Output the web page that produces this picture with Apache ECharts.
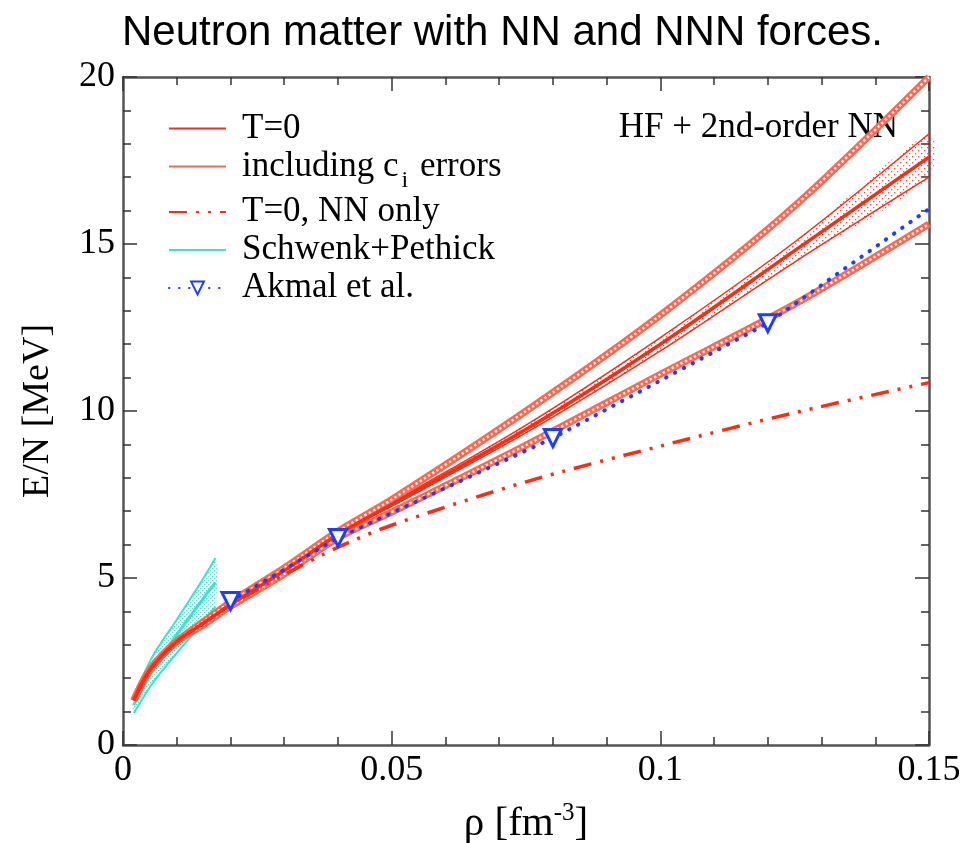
<!DOCTYPE html>
<html>
<head>
<meta charset="utf-8">
<script src="https://cdn.jsdelivr.net/npm/echarts@6/dist/echarts.min.js"></script>
<style>
html,body{margin:0;padding:0;background:#fff;}
#chart{width:977px;height:843px;}
</style>
</head>
<body>
<div id="chart"></div>
<script>
// ---- data ----
const rhoT0   = [0.002, 0.005, 0.01, 0.015, 0.02, 0.03, 0.04, 0.05, 0.075, 0.1, 0.125, 0.15];
const eT0     = [1.33, 2.25, 3.1, 3.65, 4.2, 5.22, 6.3, 7.2, 9.45, 12.0, 14.8, 17.6];
const eBandUp = [1.33, 2.25, 3.1, 3.65, 4.2, 5.22, 6.3, 7.25, 9.58, 12.2, 15.06, 18.3];
const eBandLo = [1.33, 2.25, 3.1, 3.65, 4.2, 5.22, 6.3, 7.15, 9.35, 11.8, 14.46, 17.0];
const eCiUp   = [1.33, 2.25, 3.1, 3.7, 4.28, 5.3, 6.4, 7.35, 10.0, 12.87, 16.14, 20.0];
const eCiLo   = [1.33, 2.25, 3.1, 3.6, 4.15, 5.12, 6.2, 6.97, 8.98, 11.1, 13.2, 15.6];
const eNN     = [1.33, 2.25, 3.1, 3.65, 4.2, 5.1, 5.92, 6.58, 7.88, 8.95, 9.95, 10.85];

const rhoSP = [0.002, 0.0055, 0.01, 0.015, 0.0172];
const eSPup = [1.45, 2.65, 3.75, 5.0, 5.6];
const eSP   = [1.2, 2.25, 3.3, 4.4, 4.86];
const eSPlo = [0.95, 1.85, 2.75, 3.7, 4.14];

const rhoAk = [0.02, 0.04, 0.08, 0.12, 0.15];
const eAk   = [4.31, 6.2, 9.19, 12.63, 16.05];
const akMarked = [true, true, true, true, false];

const legendNames = ['T=0', 'including c_i errors', 'T=0, NN only', 'Schwenk+Pethick', 'Akmal et al.'];

// ---- helpers ----
const pair = (xs, ys) => xs.map((x, i) => [x, ys[i]]);
const bandData = (xs, lo, up) => xs.map((x, i) => [x, lo[i], up[i]]);

function dotPattern(color, step) {
  const c = document.createElement('canvas');
  c.width = step; c.height = step;
  const ctx = c.getContext('2d');
  ctx.fillStyle = color;
  ctx.fillRect(0, 0, 1.3, 1.3);
  ctx.fillRect(step / 2, step / 2, 1.3, 1.3);
  return c;
}

function bandRenderer(fill, smooth) {
  return function (params, api) {
    if (params.dataIndexInside !== 0) return null;
    const n = params.dataInsideLength;
    const up = [], lo = [];
    for (let i = 0; i < n; i++) {
      const x = api.value(0, i);
      lo.push(api.coord([x, api.value(1, i)]));
      up.push(api.coord([x, api.value(2, i)]));
    }
    return {
      type: 'polygon',
      shape: { points: up.concat(lo.reverse()), smooth: smooth },
      style: { fill: fill, stroke: null }
    };
  };
}

const RED = '#ff2a12';
const HATCH = '#ff6650';
const CYAN = '#40e0d0';
const BLUE = '#1f3cff';
const serif = '"Liberation Serif", "DejaVu Serif", serif';

const axisCommon = {
  type: 'value',
  axisLine: { show: true, onZero: false, lineStyle: { color: '#555', width: 2.5 } },
  axisTick: { show: true, inside: true, length: 14, lineStyle: { color: '#333', width: 1.5 } },
  minorTick: { show: true, splitNumber: 5, length: 8, lineStyle: { color: '#333', width: 1.5 } },
  splitLine: { show: false },
  minorSplitLine: { show: false }
};

const noSymbol = { opacity: 0 };

const chart = echarts.init(document.getElementById('chart'), null, { renderer: 'canvas' });

const option = {
  backgroundColor: '#fff',
  animation: false,
  title: {
    text: 'Neutron matter with NN and NNN forces.',
    left: 117, top: 7,
    textStyle: { fontFamily: '"Liberation Sans", Arial, sans-serif', fontSize: 42, fontWeight: 'normal', color: '#000' }
  },
  grid: { left: 123, right: 48, top: 77, bottom: 98, containLabel: false, outerBoundsMode: 'none' },
  legend: {
    orient: 'vertical',
    left: 163, top: 105,
    itemWidth: 57, itemHeight: 16, itemGap: 1,
    data: [
      { name: legendNames[0], itemStyle: noSymbol },
      { name: legendNames[1], itemStyle: noSymbol },
      { name: legendNames[2], itemStyle: noSymbol },
      { name: legendNames[3], itemStyle: noSymbol },
      { name: legendNames[4] }
    ],
    selectedMode: false,
    formatter: name => name === 'including c_i errors' ? 'including c{sub|i} errors' : name,
    textStyle: {
      fontFamily: serif, fontSize: 35, color: '#000', lineHeight: 37, padding: [0, 0, 0, 11],
      rich: { sub: { fontFamily: serif, fontSize: 24, padding: [28, 3, 0, 3] } }
    }
  },
  graphic: [{
    type: 'text', right: 79, top: 110,
    style: { text: 'HF + 2nd-order NN', font: '35px "Liberation Serif"', fill: '#000' }
  }],
  xAxis: [
    Object.assign({}, axisCommon, {
      min: 0, max: 0.15, interval: 0.05, position: 'bottom',
      axisLabel: { fontFamily: serif, fontSize: 36, color: '#000', margin: 8,
        formatter: v => String(+v.toFixed(2)) },
      name: 'ρ [fm{sup|-3}]', nameLocation: 'middle', nameGap: 56,
      nameTextStyle: { fontFamily: serif, fontSize: 41, color: '#000',
        rich: { sup: { fontFamily: serif, fontSize: 25, padding: [0, 0, 22, 0] } } }
    }),
    Object.assign({}, axisCommon, {
      min: 0, max: 0.15, interval: 0.05, position: 'top',
      axisLabel: { show: false }
    })
  ],
  yAxis: [
    Object.assign({}, axisCommon, {
      min: 0, max: 20, interval: 5, position: 'left',
      axisLabel: { fontFamily: serif, fontSize: 36, color: '#000', margin: 8 },
      name: 'E/N [MeV]', nameLocation: 'middle', nameGap: 66,
      nameTextStyle: { fontFamily: serif, fontSize: 38, color: '#000' }
    }),
    Object.assign({}, axisCommon, {
      min: 0, max: 20, interval: 5, position: 'right',
      axisLabel: { show: false }
    })
  ],
  series: [
    // Schwenk+Pethick band
    {
      type: 'custom', name: 'spBand', z: 1, silent: true,
      renderItem: bandRenderer({ image: dotPattern('rgba(64,224,208,0.95)', 4), repeat: 'repeat' }, 0.3),
      encode: { x: 0, y: [1, 2] },
      data: bandData(rhoSP, eSPlo, eSPup)
    },
    {
      type: 'line', name: 'Schwenk+Pethick', z: 2, smooth: 0.3, symbol: 'none',
      lineStyle: { color: CYAN, width: 3 }, itemStyle: { color: CYAN },
      data: pair(rhoSP, eSP)
    },
    {
      type: 'line', name: 'spUp', z: 2, smooth: 0.3, symbol: 'none',
      lineStyle: { color: CYAN, width: 2 }, data: pair(rhoSP, eSPup)
    },
    {
      type: 'line', name: 'spLo', z: 2, smooth: 0.3, symbol: 'none',
      lineStyle: { color: CYAN, width: 2 }, data: pair(rhoSP, eSPlo)
    },
    // narrow red band around T=0
    {
      type: 'custom', name: 'redBand', z: 3, silent: true,
      renderItem: bandRenderer({ image: dotPattern('rgba(255,60,40,0.9)', 6), repeat: 'repeat' }, 0.3),
      encode: { x: 0, y: [1, 2] },
      data: bandData(rhoT0, eBandLo, eBandUp)
    },
    {
      type: 'line', name: 'bandUp', z: 4, smooth: 0.3, symbol: 'none',
      lineStyle: { color: RED, width: 1.5 }, data: pair(rhoT0, eBandUp)
    },
    {
      type: 'line', name: 'bandLo', z: 4, smooth: 0.3, symbol: 'none',
      lineStyle: { color: RED, width: 1.5 }, data: pair(rhoT0, eBandLo)
    },
    // c_i error curves (thick hatched)
    {
      type: 'line', name: 'including c_i errors', z: 5, smooth: 0.3, symbol: 'none',
      lineStyle: { color: HATCH, width: 7 }, itemStyle: { color: HATCH },
      data: pair(rhoT0, eCiUp)
    },
    {
      type: 'line', name: 'ciLo', z: 5, smooth: 0.3, symbol: 'none',
      lineStyle: { color: HATCH, width: 7 }, data: pair(rhoT0, eCiLo)
    },
    {
      type: 'line', name: 'ciUpTex', z: 6, smooth: 0.3, symbol: 'none',
      lineStyle: { color: 'rgba(255,255,255,0.85)', width: 2.5, type: [2.5, 2.5] },
      data: pair(rhoT0, eCiUp)
    },
    {
      type: 'line', name: 'ciLoTex', z: 6, smooth: 0.3, symbol: 'none',
      lineStyle: { color: 'rgba(255,255,255,0.85)', width: 2.5, type: [2.5, 2.5] },
      data: pair(rhoT0, eCiLo)
    },
    // T=0 central
    {
      type: 'line', name: 'T=0', z: 7, smooth: 0.3, symbol: 'none',
      lineStyle: { color: RED, width: 3.5 }, itemStyle: { color: RED },
      data: pair(rhoT0, eT0)
    },
    // NN only
    {
      type: 'line', name: 'T=0, NN only', z: 7, smooth: 0.3, symbol: 'none',
      lineStyle: { color: RED, width: 3.5, type: [18, 9, 3, 9, 3, 9] }, itemStyle: { color: RED },
      data: pair(rhoT0, eNN)
    },
    // Akmal
    {
      type: 'line', name: 'Akmal et al.', z: 8, smooth: false,
      symbol: 'triangle', symbolSize: 17, symbolRotate: 180,
      lineStyle: { color: BLUE, width: 4, type: [0.5, 9.5], cap: 'round' },
      itemStyle: { color: '#fff', borderColor: BLUE, borderWidth: 3 },
      data: rhoAk.map((x, i) => akMarked[i]
        ? { value: [x, eAk[i]] }
        : { value: [x, eAk[i]], symbol: 'none' })
    }
  ]
};
chart.setOption(option);
</script>
</body>
</html>
